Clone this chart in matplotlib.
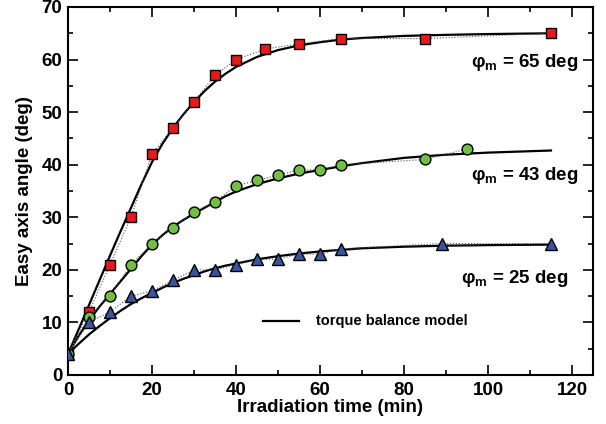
import numpy as np
import matplotlib
matplotlib.use('Agg')
import matplotlib.pyplot as plt
from matplotlib.ticker import MultipleLocator

plt.rcParams['font.family'] = ['Liberation Sans', 'DejaVu Sans']
plt.rcParams['font.weight'] = 'bold'
plt.rcParams['mathtext.fontset'] = 'custom'
plt.rcParams['mathtext.rm'] = 'Liberation Sans'
plt.rcParams['mathtext.bf'] = 'Liberation Sans:bold'

# measured data (irradiation time in min, easy axis angle in deg)
t_65 = [0, 5, 10, 15, 20, 25, 30, 35, 40, 47, 55, 65, 85, 115]
a_65 = [4, 12, 21, 30, 42, 47, 52, 57, 60, 62, 63, 64, 64, 65]
t_43 = [0, 5, 10, 15, 20, 25, 30, 35, 40, 45, 50, 55, 60, 65, 85, 95]
a_43 = [4, 11, 15, 21, 25, 28, 31, 33, 36, 37, 38, 39, 39, 40, 41, 43]
t_25 = [0, 5, 10, 15, 20, 25, 30, 35, 40, 45, 50, 55, 60, 65, 89, 115]
a_25 = [4, 10, 12, 15, 16, 18, 20, 20, 21, 22, 22, 23, 23, 24, 25, 25]

# torque balance model curves
tm = [0, 2.5, 5, 7.5, 10, 12.5, 15, 17.5, 20, 22.5, 25, 27.5, 30, 32.5, 35,
      37.5, 40, 45, 50, 55, 60, 65, 70, 80, 90, 100, 115]
m_65 = [4, 8.6, 13.3, 18, 22.7, 27.3, 31.8, 36.3, 40.5, 44, 47, 49.6, 51.9, 54, 55.8,
        57.3, 58.6, 60.5, 61.8, 62.7, 63.3, 63.8, 64.1, 64.5, 64.7, 64.85, 65]
m_43 = [4, 7.4, 10.4, 13, 15.4, 17.8, 20.2, 22.6, 24.8, 26.6, 28.2, 29.5, 30.7, 31.8, 32.9,
        34, 34.9, 36.3, 37.4, 38.3, 39.0, 39.7, 40.3, 41.3, 41.9, 42.3, 42.7]
m_25 = [4, 5.9, 7.7, 9.3, 10.8, 12.2, 13.5, 14.6, 15.6, 16.6, 17.5, 18.3, 19.0, 19.7, 20.3,
        20.8, 21.2, 22.0, 22.6, 23.1, 23.5, 23.8, 24.1, 24.4, 24.6, 24.7, 24.8]

labels = ['65', '43', '25']
label_y = [59.5, 38, 18.4]
label_x = [121.5, 121.5, 119]

red = '#e8191c'
green = '#72c043'
blue = '#3656a2'

fig = plt.figure(figsize=(6.06, 4.24), dpi=100)
ax = fig.add_axes([0.1122, 0.1156, 0.8663, 0.8679])

# model curves
ax.plot(tm, m_65, color='black', lw=1.6, zorder=2)
ax.plot(tm, m_43, color='black', lw=1.6, zorder=2)
ax.plot(tm, m_25, color='black', lw=1.6, zorder=2)

# data, joined with thin dotted lines
ms = 7.5
ax.plot(t_65, a_65, ls=':', lw=0.8, color='#555555', marker='s', ms=ms,
        mfc=red, mec='black', mew=1.0, zorder=3)
ax.plot(t_43, a_43, ls=':', lw=0.8, color='#555555', marker='o', ms=ms + 0.3,
        mfc=green, mec='black', mew=1.0, zorder=3)
ax.plot(t_25, a_25, ls=':', lw=0.8, color='#555555', marker='^', ms=ms + 0.5,
        mfc=blue, mec='black', mew=1.0, zorder=3)

for lab, x, y in zip(labels, label_x, label_y):
    ax.text(x, y, r'φ$_\mathbf{m}$ = ' + lab + ' deg', ha='right', va='center',
            fontsize=13.5, fontweight='bold')

# legend drawn by hand like the original
ax.plot([46.5, 55], [10.3, 10.3], color='black', lw=1.6)
ax.text(59, 10.3, 'torque balance model', ha='left', va='center',
        fontsize=10.5, fontweight='bold')

ax.set_xlim(0, 125)
ax.set_ylim(0, 70)
ax.xaxis.set_major_locator(MultipleLocator(20))
ax.xaxis.set_minor_locator(MultipleLocator(10))
ax.yaxis.set_major_locator(MultipleLocator(10))
ax.yaxis.set_minor_locator(MultipleLocator(5))
ax.tick_params(which='both', direction='in', top=True, right=True, width=1.2,
               labelsize=13.5)
ax.tick_params(axis='x', pad=5)
ax.tick_params(axis='y', pad=4)
ax.tick_params(which='major', length=7)
ax.tick_params(which='minor', length=3.5)
for s in ax.spines.values():
    s.set_linewidth(1.5)

ax.set_xlabel('Irradiation time (min)', fontsize=13.5, fontweight='bold', labelpad=0)
ax.set_ylabel('Easy axis angle (deg)', fontsize=13.5, fontweight='bold', labelpad=6)

fig.savefig('out.png', dpi=100)
